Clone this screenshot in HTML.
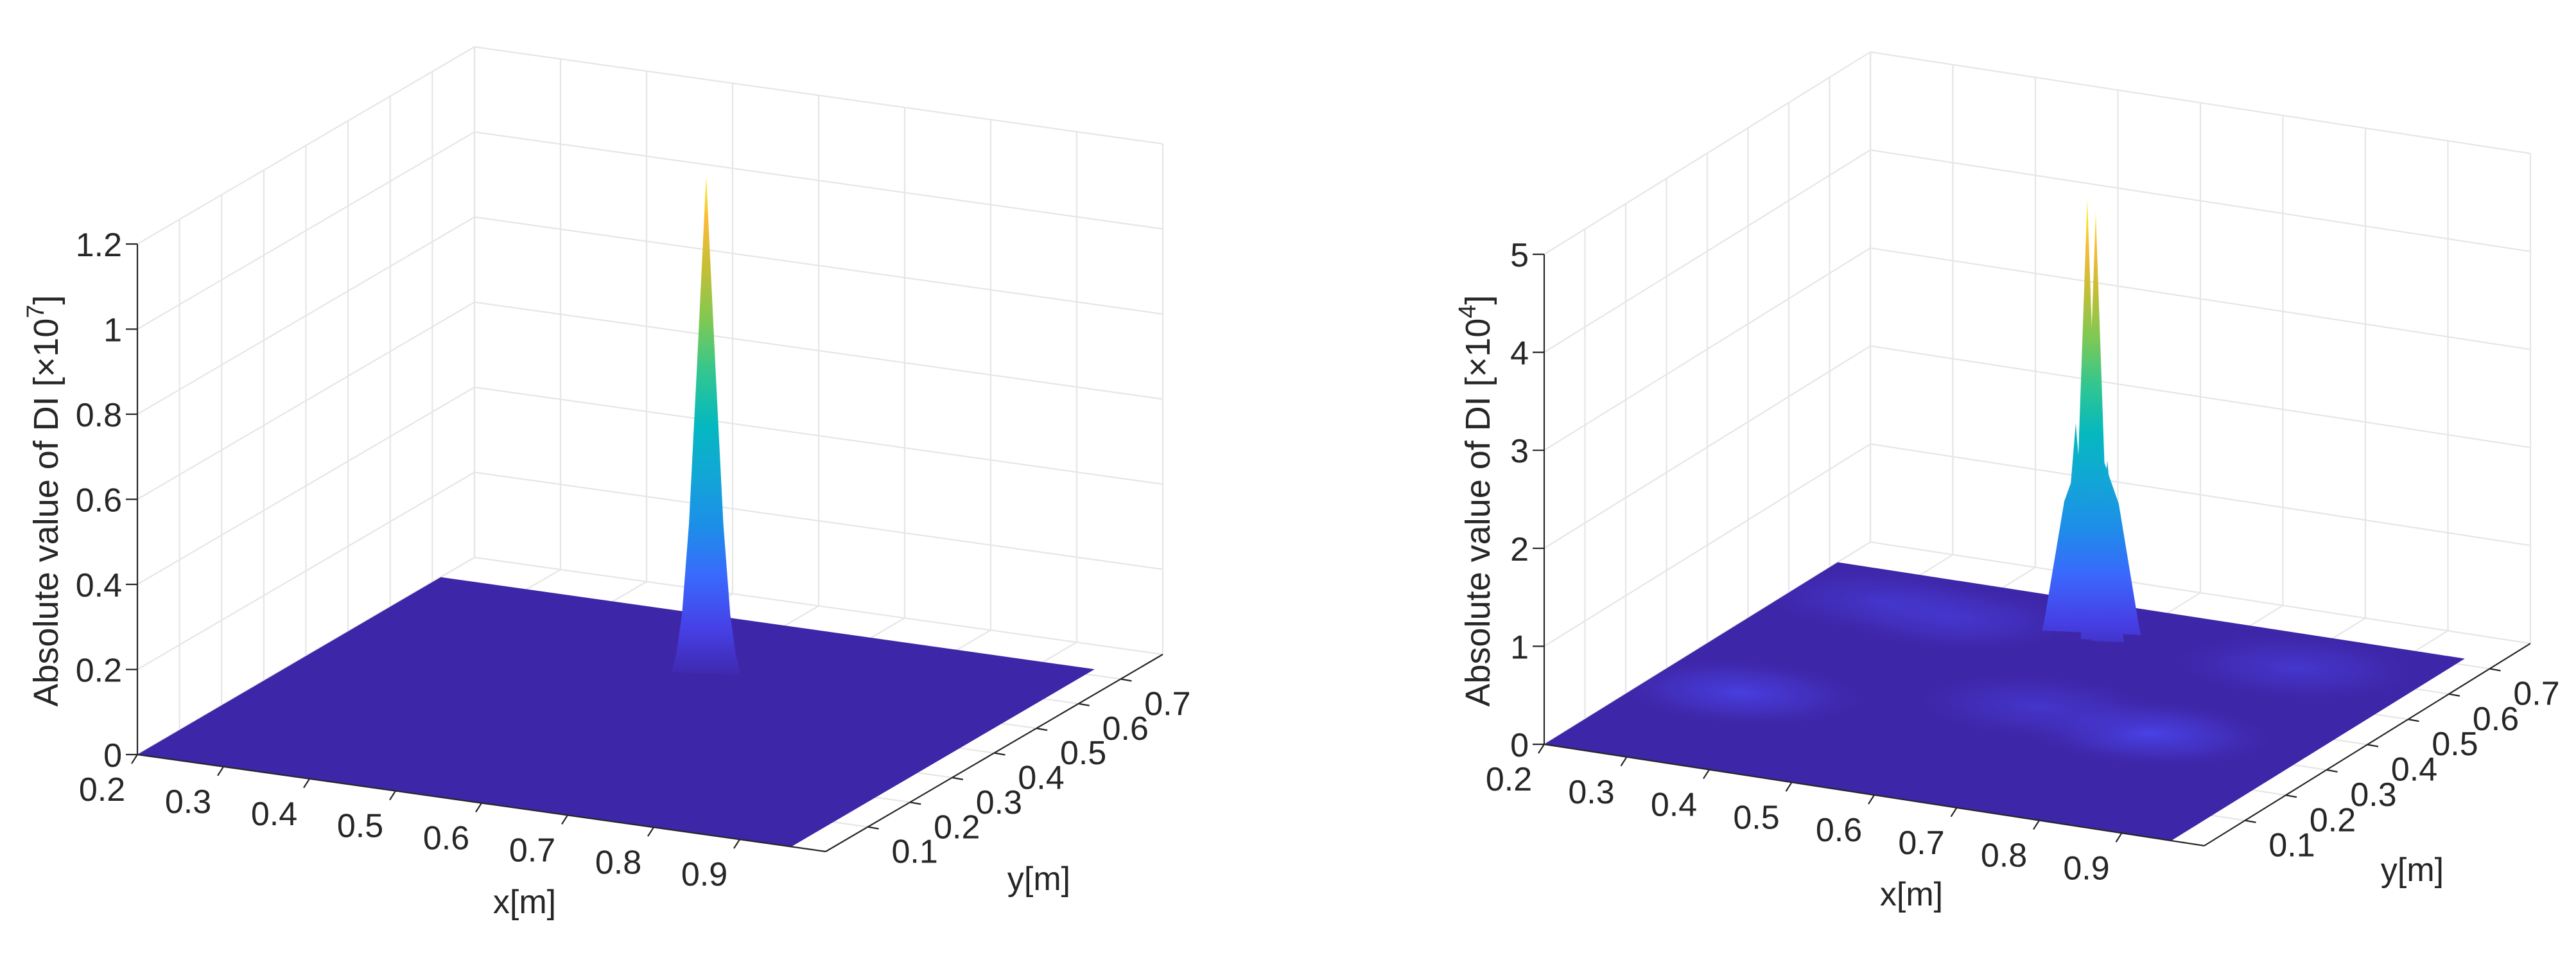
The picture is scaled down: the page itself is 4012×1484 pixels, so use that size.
<!DOCTYPE html>
<html><head><meta charset="utf-8"><style>
html,body{margin:0;padding:0;background:#fff;}
svg{display:block;font-family:"Liberation Sans",sans-serif;}
</style></head><body>
<svg id="fig" width="4012" height="1484" viewBox="0 0 4012 1484" xmlns="http://www.w3.org/2000/svg">
<defs id="defs"></defs>
</svg>
<script>
// ---- data ----
const xTicks = [0.2,0.3,0.4,0.5,0.6,0.7,0.8,0.9];
const yTicks = [0.1,0.2,0.3,0.4,0.5,0.6,0.7];
const zTicksLeft = [0,0.2,0.4,0.6,0.8,1,1.2];
const zTickLabelsLeft = ["0","0.2","0.4","0.6","0.8","1","1.2"];
const zTicksRight = [0,1,2,3,4,5];
const zTickLabelsRight = ["0","1","2","3","4","5"];
// spike peaks: x, y, height
const leftPeakX = [0.603];
const leftPeakY = [0.527];
const leftPeakZ = [1.17];
const rightBaseX = [0.557];
const rightBaseY = [0.62];
const rightBaseZ = [1.9];
const rightPeakX = [0.528, 0.586, 0.557, 0.542, 0.572];
const rightPeakY = [0.64, 0.6, 0.62, 0.64, 0.6];
const rightPeakZ = [2.05, 1.85, 2.45, 4.36, 4.36];
// floor bumps (right): x, y, intensity
const bumpX = [0.31, 0.77, 0.40, 0.81, 0.62, 0.30];
const bumpY = [0.26, 0.33, 0.60, 0.61, 0.36, 0.62];
const bumpV = [0.8, 0.9, 0.6, 0.55, 0.5, 0.45];

const svg = document.getElementById('fig');
const defs = document.getElementById('defs');
const NS = 'http://www.w3.org/2000/svg';
function el(tag, attrs, parent){const e=document.createElementNS(NS,tag);for(const k in attrs)e.setAttribute(k,attrs[k]);(parent||svg).appendChild(e);return e;}

const parula = [[0,'#3e26a8'],[0.1,'#4640e6'],[0.2,'#3a68fd'],[0.3,'#1d8ee8'],[0.4,'#12a6d6'],[0.5,'#05b8bf'],[0.6,'#30c692'],[0.7,'#7bc956'],[0.8,'#c1bf36'],[0.9,'#f9bb3a'],[1,'#f9fb0e']];
const profConcave=[[1,0],[0.6,0.28],[0.3,0.5],[0.12,0.7],[0.04,0.86],[0,1]];
const profLinear=[[1,0],[0.5,0.5],[0,1]];
const profColumn=[[1,0.15],[0.7,0.55],[0.3,0.8],[0.06,0.95],[0,1]];

function makePanel(P){
  const g = el('g',{});
  
  
  const A=P.A,B=P.B,D=P.D;
  const proj=(x,y,z)=>[A[0]+(x-0.2)/0.8*(B[0]-A[0])+y/0.8*(D[0]-A[0]), A[1]+(x-0.2)/0.8*(B[1]-A[1])+y/0.8*(D[1]-A[1])-z/P.zmax*P.zh];
  const pts=a=>a.map(p=>p.join(',')).join(' ');
  const grid = el('g',{stroke:'#e6e6e6','stroke-width':2.2,fill:'none'},g);
  
  
  const L=(p,q,par,attrs)=>el('line',Object.assign({x1:p[0],y1:p[1],x2:q[0],y2:q[1]},attrs||{}),par);
  yTicks.concat([0.8]).forEach(y=>L(proj(0.2,y,0),proj(0.2,y,P.zmax),grid));
  P.zt.forEach(z=>L(proj(0.2,0,z),proj(0.2,0.8,z),grid));
  xTicks.concat([1.0]).forEach(x=>L(proj(x,0.8,0),proj(x,0.8,P.zmax),grid));
  P.zt.forEach(z=>L(proj(0.2,0.8,z),proj(1.0,0.8,z),grid));
  xTicks.forEach(x=>L(proj(x,0,0),proj(x,0.8,0),grid));
  yTicks.forEach(y=>L(proj(0.2,y,0),proj(1.0,y,0),grid));
  const fl = el('polygon',{points:pts([proj(0.2,0,0),proj(0.96,0,0),proj(0.96,0.72,0),proj(0.2,0.72,0)]),fill:'#3e26a8'},g);
  
  
  if(P.bumps){
    const m=[(B[0]-A[0])/0.8,(B[1]-A[1])/0.8,(D[0]-A[0])/0.8,(D[1]-A[1])/0.8];
    const cp = el('clipPath',{id:P.id+'clip'},defs);
    el('polygon',{points:pts([proj(0.2,0,0),proj(0.96,0,0),proj(0.96,0.72,0),proj(0.2,0.72,0)])},cp);
    const rg = el('radialGradient',{id:P.id+'bump'},defs);
    el('stop',{offset:0,'stop-color':'#4a45ee','stop-opacity':1},rg);
    el('stop',{offset:0.55,'stop-color':'#4536cc','stop-opacity':0.7},rg);
    el('stop',{offset:1,'stop-color':'#3e26a8','stop-opacity':0},rg);
    const bg = el('g',{'clip-path':`url(#${P.id}clip)`},g);
    const tg = el('g',{transform:`matrix(${m[0]},${m[1]},${m[2]},${m[3]},${A[0]-0.2*m[0]},${A[1]-0.2*m[1]})`},bg);
    bumpX.forEach((bx,i)=>{
      const e=el('ellipse',{cx:bx,cy:bumpY[i],rx:0.15,ry:0.12,fill:`url(#${P.id}bump)`,opacity:bumpV[i]},tg);
      
      
    });
  }
  const z0=proj(0.6,0.5,0)[1], z1=proj(0.6,0.5,P.cmax)[1];
  const lg = el('linearGradient',{id:P.id+'grad',gradientUnits:'userSpaceOnUse',x1:0,x2:0,y1:z0,y2:z1},defs);
  parula.forEach(s=>el('stop',{offset:s[0],'stop-color':s[1]},lg));
  const spike=(x,y,z,hw,name,prof)=>{
    const left=[],right=[];
    prof.forEach(([f,w])=>{const zz=z*f,ww=hw*w;
      const c=proj(x,y,zz);const dx=ww*(B[0]-A[0])/0.8;const dy=ww*(B[1]-A[1])/0.8*0.3;
      left.push([c[0]-dx,c[1]-dy]);right.unshift([c[0]+dx,c[1]+dy]);});
    const p=el('polygon',{points:pts(left.concat(right)),fill:`url(#${P.id}grad)`},g);
    
    
  };
  P.spikes.forEach(s=>spike(s[0],s[1],s[2],s[3],s[4],s[5]));
  const ax = el('g',{stroke:'#262626','stroke-width':2.2},g);
  L(proj(0.2,0,0),proj(0.2,0,P.zmax),ax);
  L(proj(0.2,0,0),proj(1.0,0,0),ax);
  L(proj(1.0,0,0),proj(1.0,0.8,0),ax);
  const tg2 = el('g',{fill:'#262626','font-size':52},g);
  const txt=(x,y,s,anchor,name)=>{const t=el('text',{x:0,y:0,'text-anchor':anchor,transform:`translate(${x},${y})`},tg2);t.textContent=s;
    return t;};
  xTicks.forEach(x=>{const p=proj(x,0,0);L(p,[p[0]-9,p[1]+14],ax);txt(p[0]-55,p[1]+72,x.toFixed(1),'middle','x-tick-label');});
  yTicks.forEach(y=>{const p=proj(1.0,y,0);L(p,[p[0]+17,p[1]+3],ax);txt(p[0]+73,p[1]+56,y.toFixed(1),'middle','y-tick-label');});
  P.zt.forEach((z,i)=>{const p=proj(0.2,0,z);L(p,[p[0]-18,p[1]],ax);txt(p[0]-24,p[1]+19,P.zl[i],'end','z-tick-label');});
  txt(P.xl[0],P.xl[1],'x[m]','middle','x-axis-title');
  txt(P.yl[0],P.yl[1],'y[m]','middle','y-axis-title');
  const zt=el('text',{x:0,y:0,'text-anchor':'middle',transform:`translate(${P.zlab[0]},${P.zlab[1]}) rotate(-90)`,'font-size':54},tg2);
  
  
  zt.appendChild(document.createTextNode('Absolute value of DI [×10'));
  const sup=el('tspan',{dy:-22,'font-size':38},zt);sup.textContent=P.exp;
  const rb=el('tspan',{dy:22},zt);rb.textContent=']';
}

makePanel({name:'left-chart',id:'L',A:[214,1175],B:[1286,1326],D:[739,868],zmax:1.2,zh:795,cmax:1.2,
  zt:zTicksLeft,zl:zTickLabelsLeft,xl:[817,1422],yl:[1618,1386],zlab:[90,780],exp:'7',
  spikes:leftPeakX.map((x,i)=>[x,leftPeakY[i],leftPeakZ[i],0.04,'spike-peak',profConcave])});
makePanel({name:'right-chart',id:'R',A:[2405,1159],B:[3433,1317],D:[2913,844],zmax:5,zh:763,cmax:4.8,
  zt:zTicksRight,zl:zTickLabelsRight,xl:[2977,1410],yl:[3757,1372],zlab:[2320,780],exp:'4',bumps:true,
  spikes:rightBaseX.map((x,i)=>[x,rightBaseY[i],rightBaseZ[i],0.06,'spike-base',profColumn]).concat(rightPeakX.map((x,i)=>[x,rightPeakY[i],rightPeakZ[i],i<3?0.02:0.018,'spike-peak',profLinear]))});
</script>
</body></html>
